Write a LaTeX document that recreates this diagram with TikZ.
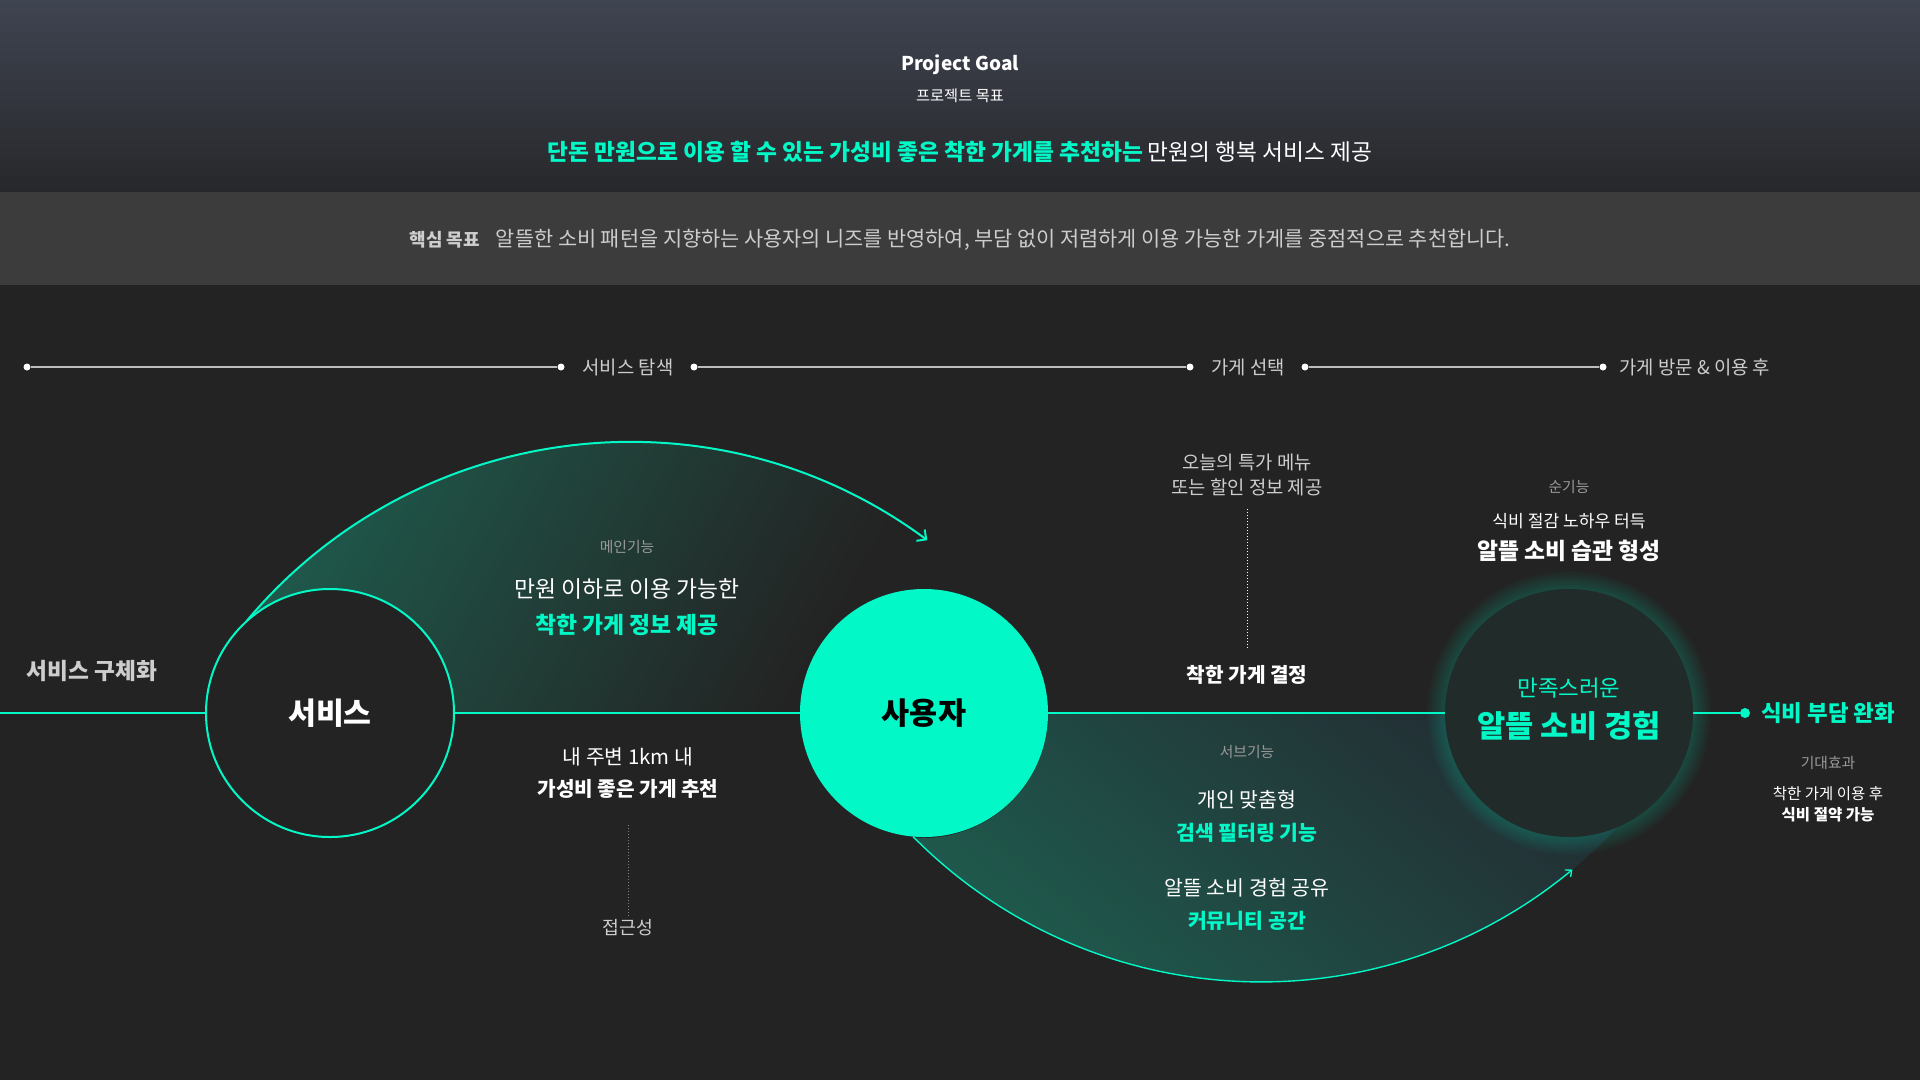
\documentclass[tikz,border=0pt]{standalone}
\usepackage{fontspec}
\setmainfont{Noto Sans CJK KR}
\usetikzlibrary{arrows.meta}

\definecolor{bg}{HTML}{232323}
\definecolor{headtop}{HTML}{3F4451}
\definecolor{headbot}{HTML}{27282B}
\definecolor{band}{HTML}{3C3C3C}
\definecolor{mint}{HTML}{02F8C6}
\definecolor{deepgreen}{HTML}{1E5E4F}
\definecolor{bluedark}{HTML}{232A31}
\definecolor{satfill}{HTML}{212B2A}
\definecolor{taggray}{HTML}{9A9A9A}
\definecolor{softgray}{HTML}{CDCDCD}
\definecolor{linegray}{HTML}{BDBDBD}

\begin{document}
\begin{tikzpicture}[x=1pt, y=-1pt]
	\tikzstyle{ring}=[circle, minimum size=248pt, inner sep=0pt]
	\tikzstyle{tdot}=[circle, fill=white, minimum size=7pt, inner sep=0pt]
	\tikzstyle{phase}=[text=softgray, font=\fontsize{18.8}{22}\selectfont]
	\tikzstyle{tag}=[text=taggray, font=\fontsize{14.8}{17}\selectfont]
	\tikzstyle{body}=[text=white, font=\fontsize{20.5}{24}\selectfont]
	\tikzstyle{hilite}=[text=mint, font=\bfseries\fontsize{20.5}{24}\selectfont]
	\tikzstyle{mainline}=[mint, line width=2.2pt]
	\tikzstyle{dotline}=[white, line width=1pt, dash pattern=on 1pt off 2pt]

	% background and header bands
	\useasboundingbox (0,0) rectangle (1920,1080);
	\fill[bg] (0,0) rectangle (1920,1080);
	\shade[top color=headtop, bottom color=headbot] (0,0) rectangle (1920,192);
	\fill[band] (0,192) rectangle (1920,285);

	\node[text=white, font=\bfseries\fontsize{19}{22}\selectfont] (pgoal) at (960,65) {Project Goal};
	\node[text=white, font=\fontsize{15.3}{18}\selectfont] (pgoalkr) at (960,96) {프로젝트 목표};
	\node[text=white, font=\fontsize{22.7}{26}\selectfont] (slogan) at (960,152)
		{{\color{mint}\bfseries 단돈 만원으로 이용 할 수 있는 가성비 좋은 착한 가게를 추천하는} 만원의 행복 서비스 제공};
	\node[text=softgray, font=\fontsize{20.8}{24}\selectfont] (coregoal) at (960,240)
		{{\bfseries\fontsize{18}{22}\selectfont 핵심 목표}\hspace{16pt}알뜰한 소비 패턴을 지향하는 사용자의 니즈를 반영하여, 부담 없이 저렴하게 이용 가능한 가게를 중점적으로 추천합니다.};

	% timeline
	\node[tdot] (t1) at (27,367) {};
	\node[tdot] (t2) at (561,367) {};
	\node[tdot] (t3) at (694,367) {};
	\node[tdot] (t4) at (1190,367) {};
	\node[tdot] (t5) at (1305,367) {};
	\node[tdot] (t6) at (1603,367) {};
	\node[phase] (explore) at (628,367) {서비스 탐색};
	\node[phase] (choose) at (1248,367) {가게 선택};
	\node[phase, anchor=west] (visit) at (1616,367) {가게 방문 \& 이용 후};
	\begin{scope}[linegray, line width=2pt]
		\draw (t1) -- (t2);
		\draw (t3) -- (t4);
		\draw (t5) -- (t6);
	\end{scope}

	% circles
	\node[ring] (svc) at (330,713) {};
	\node[ring] (usr) at (924,713) {};
	\node[ring] (sat) at (1569,713) {};

	% gradient areas
	\begin{scope}
		\clip (svc.132.4) arc[start angle=-140, end angle=-53.5, radius=500] -- (usr.west) -- (svc.east)
			arc[start angle=0, end angle=-132.4, radius=124] -- cycle;
		\shade[top color=deepgreen, bottom color=bg, shading angle=60] (180,430) rectangle (900,713);
	\end{scope}
	\begin{scope}
		\clip (usr.265.4) arc[start angle=135.3, end angle=26.9, radius=489] -- (usr.east)
			arc[start angle=0, end angle=94.6, radius=125] -- cycle;
		\shade[bottom color=deepgreen, top color=bluedark, shading angle=-40] (820,713) rectangle (1700,985);
	\end{scope}

	% glow
	\foreach \r in {126,128,...,142}
		\fill[mint, opacity=0.022] (sat.center) circle (\r pt);

	% main line
	\coordinate (lstart) at (0,713);
	\node[circle, fill=mint, minimum size=10pt, inner sep=0pt] (fend) at (1745,713) {};
	\draw[mainline] (lstart) -- (svc);
	\draw[mainline] (svc) -- (usr);
	\draw[mainline] (usr) -- (sat);
	\draw[mainline] (sat) -- (fend);

	\node[ring, draw=mint, line width=2pt, fill=bg, text=white, font=\bfseries\fontsize{30.3}{34}\selectfont] at (svc) {서비스};
	\node[ring, fill=mint, text=black, font=\bfseries\fontsize{30.5}{34}\selectfont] at (usr) {사용자};
	\node[ring, fill=satfill] at (sat) {};

	% arcs
	\draw[mint, line width=2pt, -{Straight Barb[length=7pt,width=14pt]}]
		(svc.132.4) arc[start angle=-140, end angle=-53.5, radius=500];
	\draw[mint, line width=1.4pt, -{Straight Barb[length=5pt,width=9pt]}]
		(usr.265.4) arc[start angle=135.3, end angle=50.4, radius=489];

	% left
	\node[text=softgray, font=\bfseries\fontsize{22.7}{26}\selectfont] (concrete) at (92,671) {서비스 구체화};
	\node[tag] (maintag) at (627,547) {메인기능};
	\node[body, font=\fontsize{22.8}{26}\selectfont] (main1) at (627,589) {만원 이하로 이용 가능한};
	\node[hilite, font=\bfseries\fontsize{22.8}{26}\selectfont] (main2) at (627,625) {착한 가게 정보 제공};
	\node[body, font=\fontsize{20.4}{24}\selectfont] (near1) at (628,757) {내 주변 1km 내};
	\node[body, font=\bfseries\fontsize{20.2}{24}\selectfont] (near2) at (628,789) {가성비 좋은 가게 추천};
	\node[phase, font=\fontsize{18.3}{21}\selectfont] (access) at (628,928) {접근성};
	\draw[dotline, gray] (near2) ++(0,36) -- (access.north);

	% middle
	\node[phase] (deal1) at (1247,462) {오늘의 특가 메뉴};
	\node[phase] (deal2) at (1247,487) {또는 할인 정보 제공};
	\node[text=white, font=\bfseries\fontsize{20.2}{24}\selectfont] (decide) at (1247,675) {착한 가게 결정};
	\draw[dotline, shorten <=10pt, shorten >=14pt] (deal2) -- (decide);
	\node[tag] (subtag) at (1247,752) {서브기능};
	\node[body] (sub1) at (1247,800) {개인 맞춤형};
	\node[hilite] (sub2) at (1247,833) {검색 필터링 기능};
	\node[body] (sub3) at (1247,888) {알뜰 소비 경험 공유};
	\node[hilite] (sub4) at (1247,921) {커뮤니티 공간};

	% right
	\node[tag] (puretag) at (1569,487) {순기능};
	\node[body, font=\fontsize{17.1}{20}\selectfont] (habit1) at (1569,521) {식비 절감 노하우 터득};
	\node[body, font=\bfseries\fontsize{22.8}{26}\selectfont] (habit2) at (1569,551) {알뜰 소비 습관 형성};
	\node[text=mint, font=\fontsize{22.4}{26}\selectfont] (satis1) at (1569,688) {만족스러운};
	\node[text=mint, font=\bfseries\fontsize{30.7}{34}\selectfont] (satis2) at (1569,726) {알뜰 소비 경험};
	\node[text=mint, font=\bfseries\fontsize{22.4}{26}\selectfont] (relief) at (1828,713) {식비 부담 완화};
	\node[tag] (efftag) at (1828,763) {기대효과};
	\node[body, font=\fontsize{15.5}{18}\selectfont] (eff1) at (1828,794) {착한 가게 이용 후};
	\node[body, font=\bfseries\fontsize{15.5}{18}\selectfont] (eff2) at (1828,815) {식비 절약 가능};
\end{tikzpicture}
\end{document}
